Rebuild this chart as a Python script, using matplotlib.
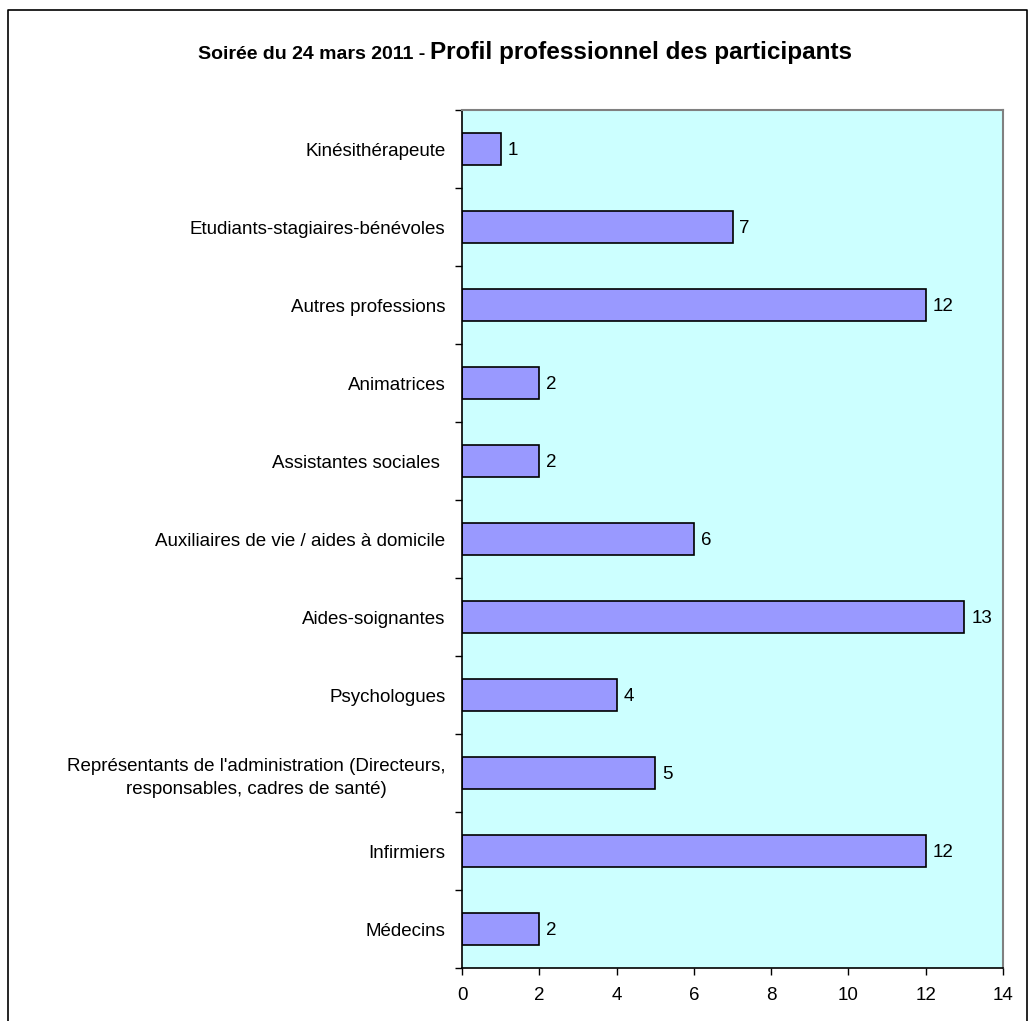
import matplotlib
matplotlib.use('Agg')
import matplotlib.pyplot as plt
from matplotlib.lines import Line2D
import numpy as np

plt.rcParams['font.family'] = ['Liberation Sans', 'DejaVu Sans']

# Categories from bottom to top
categories = [
    'Médecins',
    'Infirmiers',
    "Représentants de l'administration (Directeurs,\nresponsables, cadres de santé)",
    'Psychologues',
    'Aides-soignantes',
    'Auxiliaires de vie / aides à domicile',
    'Assistantes sociales ',
    'Animatrices',
    'Autres professions',
    'Etudiants-stagiaires-bénévoles',
    'Kinésithérapeute',
]
values = [2, 12, 5, 4, 13, 6, 2, 2, 12, 7, 1]
x_ticks = [0, 2, 4, 6, 8, 10, 12, 14]

title_left = 'Soirée du 24 mars 2011 - '
title_right = 'Profil professionnel des participants'

fig = plt.figure(figsize=(10.30, 10.21), dpi=100)
ax = fig.add_axes([462 / 1030, 53 / 1021, 541 / 1030, 858 / 1021])
ax.set_facecolor('#CCFFFF')

y = np.arange(len(categories))
ax.barh(y, values, height=0.42, color='#9999FF', edgecolor='black', linewidth=1.2)

for yi, v in zip(y, values):
    ax.annotate(str(v), (v, yi), xytext=(5, -1), textcoords='offset points',
                va='center', ha='left', fontsize=13.5)

ax.set_xlim(0, 14)
ax.set_ylim(-0.5, len(categories) - 0.5)
ax.set_xticks(x_ticks)
ax.set_xticklabels([str(t) for t in x_ticks], fontsize=13.5)
ax.set_yticks(y)
ax.set_yticklabels(categories, fontsize=13.5, multialignment='center', linespacing=1.45)
ax.tick_params(axis='y', length=0, pad=12)
ax.set_yticks(np.arange(len(categories) + 1) - 0.5, minor=True)
ax.tick_params(axis='y', which='minor', length=5, width=1, direction='out')
ax.tick_params(axis='x', length=5, width=1, direction='out', pad=9)

for s in ['left', 'bottom']:
    ax.spines[s].set_color('black')
    ax.spines[s].set_linewidth(1.2)
for s in ['top', 'right']:
    ax.spines[s].set_color('#808080')
    ax.spines[s].set_linewidth(1.5)

# title made of two parts with different sizes
fig.canvas.draw()
r = fig.canvas.get_renderer()
t1 = fig.text(0, 0, title_left, fontsize=14, fontweight='bold', va='baseline')
t2 = fig.text(0, 0, title_right, fontsize=17.5, fontweight='bold', va='baseline')
w1 = t1.get_window_extent(r).width / fig.bbox.width
w2 = t2.get_window_extent(r).width / fig.bbox.width
x0 = 525 / 1030 - (w1 + w2) / 2
base = 1 - 59 / 1021
t1.set_position((x0, base))
t2.set_position((x0 + w1, base))

# figure border (left, top, right)
bx0, bx1, by1 = 8 / 1030, 1027 / 1030, 1 - 10 / 1021
fig.add_artist(Line2D([bx0, bx0, bx1, bx1], [0, by1, by1, 0],
                      transform=fig.transFigure, color='black', linewidth=1.2))

fig.savefig('out.png', dpi=100)
